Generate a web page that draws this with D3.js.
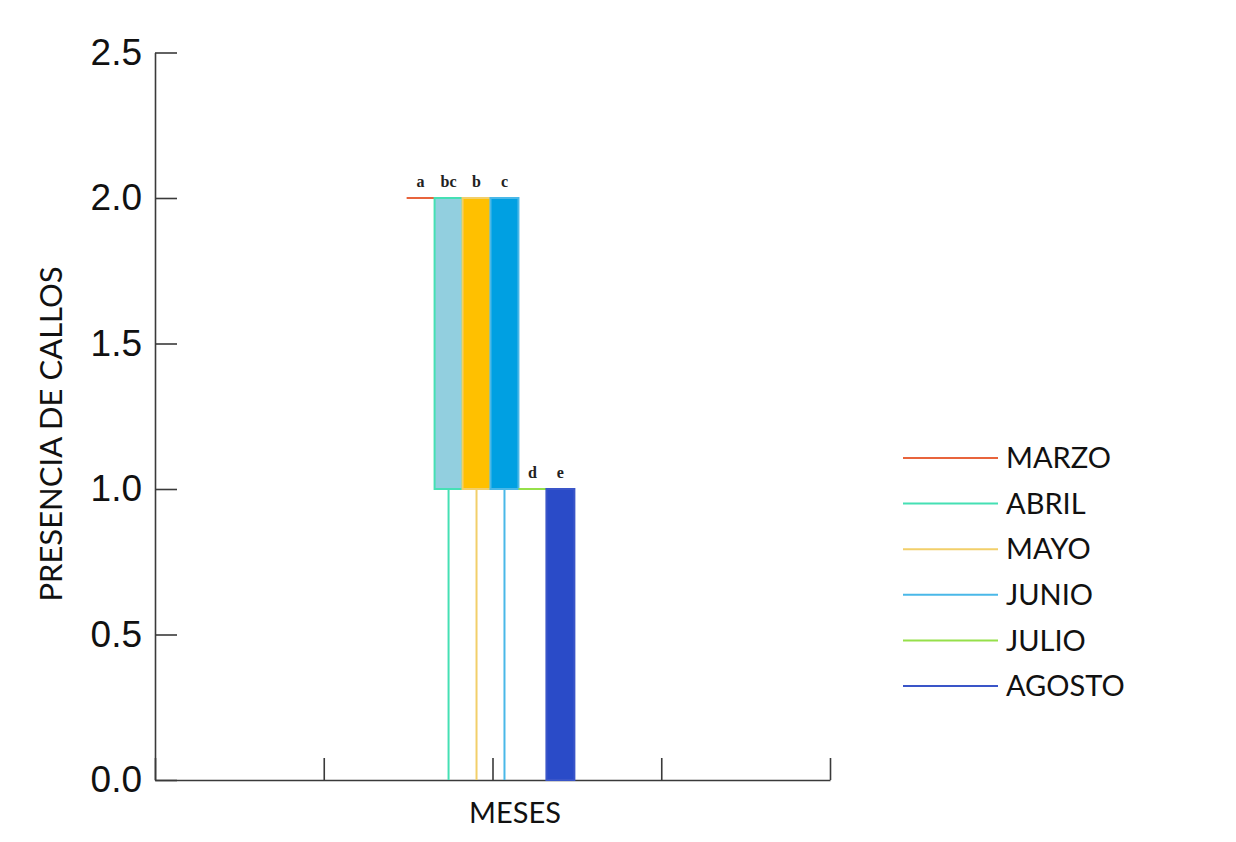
<!DOCTYPE html>
<html>
<head>
<meta charset="utf-8">
<script src="https://cdn.jsdelivr.net/npm/d3@7"></script>
<style>
  html, body { margin: 0; padding: 0; background: #ffffff; }
  svg { display: block; }
</style>
</head>
<body>
<svg id="chart" width="1236" height="842"></svg>
<script>
// ---- data ----
const months = ["MARZO", "ABRIL", "MAYO", "JUNIO", "JULIO", "AGOSTO"];
const minVals    = [2, 0, 0, 0, 1, 0];
const q1Vals     = [2, 1, 1, 1, 1, 0];
const medianVals = [2, 2, 2, 2, 1, 1];
const q3Vals     = [2, 2, 2, 2, 1, 1];
const maxVals    = [2, 2, 2, 2, 1, 1];
const letters    = ["a", "bc", "b", "c", "d", "e"];
const strokeColors = ["#e8643c", "#45e0b4", "#f2cf6a", "#4ab8e8", "#96e04a", "#3a55c8"];
const fillColors   = ["none", "#92cfdf", "#ffc000", "#00a0e2", "none", "#2a4bc8"];
const yTicks = [0, 0.5, 1.0, 1.5, 2.0, 2.5];
const xTicks = [0, 1, 2, 3, 4];
const groupCenter = 2;

// ---- layout ----
const svg = d3.select("#chart");
const axisColor = "#3a3a3a";

const y = d3.scaleLinear().domain([0, 2.5]).range([780, 52.5]);
const x = d3.scaleLinear().domain([0, 4]).range([155, 830]);
const band = d3.scaleBand().domain(months)
  .range([x(groupCenter - 0.5) - 1.5, x(groupCenter + 0.5) - 2.5]).padding(0);

// y axis
const yAxis = svg.append("g")
  .attr("transform", `translate(${x(0)},0)`)
  .call(d3.axisLeft(y).tickValues(yTicks).tickFormat(d3.format(".1f"))
    .tickSizeInner(-22).tickSizeOuter(0).tickPadding(13));
yAxis.select(".domain").attr("stroke", axisColor).attr("stroke-width", 1.6);
yAxis.selectAll(".tick line").attr("stroke", axisColor).attr("stroke-width", 1.6);
yAxis.selectAll(".tick text")
  .attr("font-family", "'Liberation Sans', Arial, sans-serif")
  .attr("font-size", 37).attr("fill", "#111");

// x axis
const xAxis = svg.append("g")
  .attr("transform", `translate(0,${y(0)})`)
  .call(d3.axisBottom(x).tickValues(xTicks).tickFormat("")
    .tickSizeInner(-22).tickSizeOuter(0));
xAxis.select(".domain").attr("stroke", axisColor).attr("stroke-width", 1.6);
xAxis.selectAll(".tick line").attr("stroke", axisColor).attr("stroke-width", 1.6);

// box plots
const data = months.map((m, i) => ({
  m, min: minVals[i], q1: q1Vals[i], med: medianVals[i], q3: q3Vals[i], max: maxVals[i],
  letter: letters[i], stroke: strokeColors[i], fill: fillColors[i]
}));

const boxes = svg.append("g").selectAll("g").data(data).join("g");

// whiskers
boxes.filter(d => d.min < d.q1).append("line")
  .attr("x1", d => band(d.m) + band.bandwidth() / 2)
  .attr("x2", d => band(d.m) + band.bandwidth() / 2)
  .attr("y1", d => y(d.q1)).attr("y2", d => y(d.min))
  .attr("stroke", d => d.stroke).attr("stroke-width", 2);
boxes.filter(d => d.max > d.q3).append("line")
  .attr("x1", d => band(d.m) + band.bandwidth() / 2)
  .attr("x2", d => band(d.m) + band.bandwidth() / 2)
  .attr("y1", d => y(d.q3)).attr("y2", d => y(d.max))
  .attr("stroke", d => d.stroke).attr("stroke-width", 2);

// boxes
boxes.filter(d => d.q3 > d.q1).append("rect")
  .attr("x", d => band(d.m))
  .attr("width", band.bandwidth())
  .attr("y", d => y(d.q3))
  .attr("height", d => y(d.q1) - y(d.q3))
  .attr("fill", d => d.fill)
  .attr("stroke", d => d.stroke).attr("stroke-width", 2);

// median / flat boxes
boxes.append("line")
  .attr("x1", d => band(d.m)).attr("x2", d => band(d.m) + band.bandwidth())
  .attr("y1", d => y(d.med)).attr("y2", d => y(d.med))
  .attr("stroke", d => d.stroke).attr("stroke-width", 2);

// letters
boxes.append("text")
  .attr("x", d => band(d.m) + band.bandwidth() / 2)
  .attr("y", d => y(d.max) - 11)
  .attr("text-anchor", "middle")
  .attr("font-family", "'Liberation Serif', 'DejaVu Serif', serif")
  .attr("font-weight", "bold")
  .attr("font-size", 16)
  .attr("fill", "#222")
  .text(d => d.letter);

// axis titles
svg.append("text")
  .attr("x", 515).attr("y", 823)
  .attr("text-anchor", "middle")
  .attr("font-family", "Lato, 'Open Sans', sans-serif")
  .attr("font-size", 29).attr("fill", "#111")
  .text("MESES");

svg.append("text")
  .attr("transform", "translate(62,434) rotate(-90)")
  .attr("text-anchor", "middle")
  .attr("font-family", "Lato, 'Open Sans', sans-serif")
  .attr("font-size", 31).attr("fill", "#111")
  .text("PRESENCIA DE CALLOS");

// legend
const legendY = d3.scalePoint().domain(months).range([458, 686]);
const legend = svg.append("g").selectAll("g").data(data).join("g")
  .attr("transform", d => `translate(0,${legendY(d.m)})`);
legend.append("line")
  .attr("x1", 903).attr("x2", 998).attr("y1", 0).attr("y2", 0)
  .attr("stroke", d => d.stroke).attr("stroke-width", 2);
legend.append("text")
  .attr("x", 1006).attr("y", 0).attr("dy", "0.35em")
  .attr("font-family", "Lato, 'Open Sans', sans-serif")
  .attr("font-size", 29).attr("fill", "#111")
  .text(d => d.m);
</script>
</body>
</html>
